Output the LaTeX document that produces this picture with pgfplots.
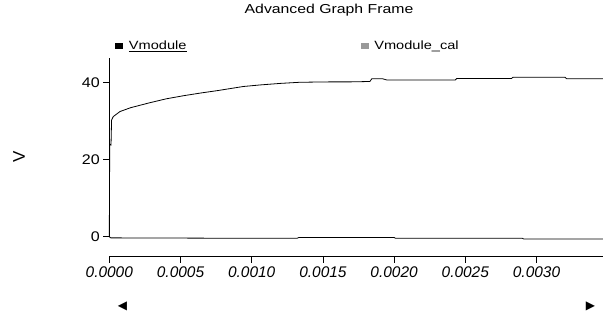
\documentclass[border=0pt]{standalone}
\usepackage{fontspec}
\setmainfont{Liberation Sans}
\newfontfamily\widefont[FakeStretch=1.22]{Liberation Sans}
\newfontfamily\ytfont[FakeStretch=1.15]{Liberation Sans}
\newfontfamily\symfont{DejaVu Sans}
\usepackage{pgfplots}
\pgfplotsset{compat=1.18}
\usepackage{pgfplotstable}
\pgfplotstableread{
x y
0 0
0.000003 24.0
0.000012 23.8
0.000016 30.3
0.000028 31.2
0.000075 32.5
0.000150 33.5
0.000286 34.8
0.000400 35.8
0.000520 36.6
0.000640 37.3
0.000754 37.9
0.000941 39.0
0.001058 39.4
0.001199 39.8
0.001339 40.1
0.001550 40.2
0.001691 40.2
0.001830 40.3
0.001843 41.0
0.001920 41.0
0.001948 40.7
0.002430 40.7
0.002440 41.1
0.002825 41.1
0.002835 41.4
0.003200 41.4
0.003212 41.0
0.003467 41.0
}\vmodule
\pgfplotstableread{
x y
0 0
0.000010 -0.3
0.000900 -0.4
0.001320 -0.4
0.001330 -0.2
0.002000 -0.2
0.002010 -0.4
0.002900 -0.4
0.002910 -0.6
0.003467 -0.6
}\vcal
\begin{document}
\begin{tikzpicture}
\begin{axis}[name=ax, scale only axis, width=493.7bp, height=198.7bp,
  xmin=0, xmax=0.003467, ymin=-5.19, ymax=46.4,
  clip=false,
  axis x line=bottom, axis y line=left,
  x axis line style={-, line width=0.8bp},
  y axis line style={-, draw=none},
  xtick={0,0.0005,0.001,0.0015,0.002,0.0025,0.003},
  ytick={0,20,40},
  tick align=outside, major tick length=6bp,
  tick style={black, line width=0.8bp},
  scaled x ticks=false,
  /pgf/number format/assume math mode=true,
  xticklabel style={/pgf/number format/.cd, fixed, fixed zerofill, precision=4, /tikz/.cd, font=\fontsize{15.5}{16}\selectfont\itshape},
  yticklabel style={font=\ytfont\fontsize{14}{14}\selectfont},
  title={Advanced Graph Frame},
  title style={at={(axis description cs:0.445,1.195)}, anchor=base, inner sep=0pt, font=\widefont\fontsize{13}{13}\selectfont},
  legend columns=2,
  legend style={draw=none, fill=none, at={(axis description cs:0.0115,1.06)}, anchor=west, inner sep=0pt,
    nodes={inner sep=0pt, font=\widefont\fontsize{12}{12}\selectfont},
    /tikz/every odd column/.append style={column sep=6bp},
    /tikz/every even column/.append style={column sep=174bp}},
  legend image code/.code={\fill[#1] (0bp,-2.5bp) rectangle (7bp,2.5bp);},
]
\draw[line width=0.8bp] (axis cs:0,0) -- (axis cs:0,46.4);
\addplot[black, line width=0.8bp] table[x=x,y=y] {\vmodule};
\addlegendentry{\underline{Vmodule}}
\addplot[black, line width=0.8bp, legend image code/.code={\fill[gray!80] (0bp,-2.5bp) rectangle (7bp,2.5bp);}] table[x=x,y=y] {\vcal};
\addlegendentry{Vmodule\_cal}
\end{axis}
\node[rotate=90, inner sep=0pt, font=\fontsize{17}{17}\selectfont] at ([xshift=-94.3bp]ax.west) [yshift=-4bp] {V};
\node[font=\symfont\fontsize{12}{12}\selectfont, inner sep=0pt] at ([xshift=13.2bp,yshift=-49.3bp]ax.south west) {◀};
\node[font=\symfont\fontsize{12}{12}\selectfont, inner sep=0pt] at ([xshift=-12.5bp,yshift=-49.8bp]ax.south east) {▶};
\pgfresetboundingbox
\path ([xshift=-109.3bp,yshift=-60.3bp]ax.south west) rectangle ([yshift=58bp]ax.north east);
\end{tikzpicture}
\end{document}
